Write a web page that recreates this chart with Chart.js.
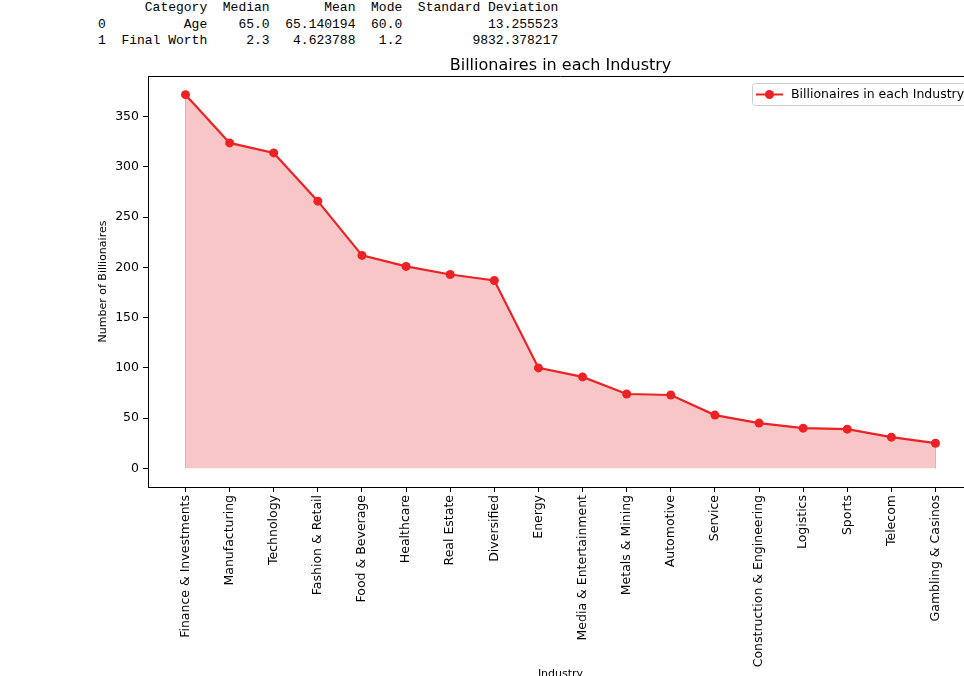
<!DOCTYPE html>
<html>
<head>
<meta charset="utf-8">
<script src="https://cdn.jsdelivr.net/npm/chart.js@4/dist/chart.umd.min.js"></script>
<style>
  html, body { margin: 0; padding: 0; background: #fff; overflow: hidden; width: 964px; height: 676px; }
  #stats { position: absolute; left: 98px; top: 0; margin: 0; font: 13px/16.5px "Liberation Mono", "DejaVu Sans Mono", monospace; color: #000; }
  #chart { position: absolute; left: 0; top: 0; }
</style>
</head>
<body>
<pre id="stats"></pre>
<canvas id="chart" width="990" height="676"></canvas>
<script>
// summary table printed above the figure
const statColumns = ["Category", "Median", "Mean", "Mode", "Standard Deviation"];
const statRows = [
  ["Age", "65.0", "65.140194", "60.0", "13.255523"],
  ["Final Worth", "2.3", "4.623788", "1.2", "9832.378217"],
];

// chart data
const industries = [
  "Finance & Investments", "Manufacturing", "Technology", "Fashion & Retail",
  "Food & Beverage", "Healthcare", "Real Estate", "Diversified", "Energy",
  "Media & Entertainment", "Metals & Mining", "Automotive", "Service",
  "Construction & Engineering", "Logistics", "Sports", "Telecom", "Gambling & Casinos",
];
const billionaires = [372, 324, 314, 266, 212, 201, 193, 187, 100, 91, 74, 73, 53, 45, 40, 39, 31, 25];
const yTicks = [0, 50, 100, 150, 200, 250, 300, 350];

const chartTitle = "Billionaires in each Industry";
const seriesLabel = "Billionaires in each Industry";
const xTitle = "Industry";
const yTitle = "Number of Billionaires";

// pandas-like text table
(function () {
  const widths = statColumns.map((c, i) => Math.max(c.length, ...statRows.map(r => r[i].length)));
  const pad = (s, w) => " ".repeat(w - s.length) + s;
  const lines = [" " + statColumns.map((c, i) => "  " + pad(c, widths[i])).join("")];
  statRows.forEach((r, k) => lines.push(String(k) + r.map((v, i) => "  " + pad(v, widths[i])).join("")));
  document.getElementById("stats").textContent = lines.join("\n");
})();

const RED = "rgb(236,34,36)";
const FILL = "rgb(248,198,198)";

const points = billionaires.map((v, i) => ({ x: i, y: v }));
const last = billionaires.length - 1;
const area = [{ x: 0, y: 0 }, ...points, { x: last, y: 0 }];

const yMax = Math.max(...billionaires);
const yPad = yMax * 0.05;
const xPad = last * 0.05;

const decor = {
  id: "decor",
  afterDraw(chart) {
    const { ctx, chartArea: a } = chart;
    ctx.save();
    // top / right spines
    ctx.strokeStyle = "#000";
    ctx.lineWidth = 1;
    ctx.beginPath();
    ctx.moveTo(a.left, a.top + 0.5);
    ctx.lineTo(a.right, a.top + 0.5);
    ctx.moveTo(a.right - 0.5, a.top);
    ctx.lineTo(a.right - 0.5, a.bottom);
    ctx.stroke();

    // title
    ctx.fillStyle = "#000";
    ctx.font = "16px 'DejaVu Sans'";
    ctx.textAlign = "center";
    ctx.textBaseline = "alphabetic";
    ctx.fillText(chartTitle, (a.left + a.right) / 2, a.top - 6);

    // axis titles
    ctx.font = "11px 'DejaVu Sans'";
    ctx.textBaseline = "top";
    ctx.fillText(xTitle, (a.left + a.right) / 2, 669);
    ctx.save();
    ctx.translate(103, (a.top + a.bottom) / 2);
    ctx.rotate(-Math.PI / 2);
    ctx.textBaseline = "middle";
    ctx.fillText(yTitle, 0, 0);
    ctx.restore();

    // legend
    const lx = 752, ly = 83, lw = 214, lh = 22;
    ctx.strokeStyle = "#cccccc";
    ctx.fillStyle = "rgba(255,255,255,0.8)";
    ctx.beginPath();
    ctx.roundRect(lx + 0.5, ly + 0.5, lw, lh, 3);
    ctx.fill();
    ctx.stroke();
    const cy = ly + lh / 2 + 0.5;
    ctx.strokeStyle = RED;
    ctx.lineWidth = 2;
    ctx.beginPath();
    ctx.moveTo(756, cy);
    ctx.lineTo(783, cy);
    ctx.stroke();
    ctx.fillStyle = RED;
    ctx.beginPath();
    ctx.arc(769.5, cy, 4.5, 0, Math.PI * 2);
    ctx.fill();
    ctx.fillStyle = "#000";
    ctx.font = "12.5px 'DejaVu Sans'";
    ctx.textAlign = "left";
    ctx.textBaseline = "middle";
    ctx.fillText(seriesLabel, 791, cy);
    ctx.restore();
  },
};

Chart.defaults.font.family = "'DejaVu Sans'";
Chart.defaults.color = "#000";

new Chart(document.getElementById("chart"), {
  type: "line",
  data: {
    datasets: [
      {
        label: seriesLabel,
        data: points,
        order: 1,
        borderColor: RED,
        borderWidth: 2.2,
        backgroundColor: RED,
        pointRadius: 4.5,
        pointBorderWidth: 0,
        pointBackgroundColor: RED,
        fill: false,
        tension: 0,
      },
      {
        label: "area",
        data: area,
        order: 2,
        borderColor: "rgb(240,172,172)",
        borderWidth: 1,
        backgroundColor: FILL,
        fill: "origin",
        pointRadius: 0,
        tension: 0,
      },
    ],
  },
  options: {
    responsive: false,
    animation: false,
    layout: { padding: { top: 76, right: 17, left: 0, bottom: 0 } },
    plugins: { legend: { display: false }, title: { display: false }, tooltip: { enabled: false } },
    scales: {
      x: {
        type: "linear",
        min: -xPad,
        max: last + xPad,
        afterFit: s => { s.height = 189; },
        afterBuildTicks: s => { s.ticks = industries.map((_, i) => ({ value: i })); },
        ticks: {
          autoSkip: false,
          maxRotation: 90,
          minRotation: 90,
          padding: 3,
          font: { size: 12.5 },
          callback: v => industries[v],
        },
        grid: { drawOnChartArea: false, tickLength: 5, tickColor: "#000" },
        border: { display: true, color: "#000", width: 1 },
      },
      y: {
        type: "linear",
        min: -yPad,
        max: yMax + yPad,
        afterFit: s => { s.width = 148; },
        afterBuildTicks: s => { s.ticks = yTicks.map(v => ({ value: v })); },
        ticks: { padding: 4, font: { size: 12.5 } },
        grid: { drawOnChartArea: false, tickLength: 5, tickColor: "#000" },
        border: { display: true, color: "#000", width: 1 },
      },
    },
  },
  plugins: [decor],
});
</script>
</body>
</html>
